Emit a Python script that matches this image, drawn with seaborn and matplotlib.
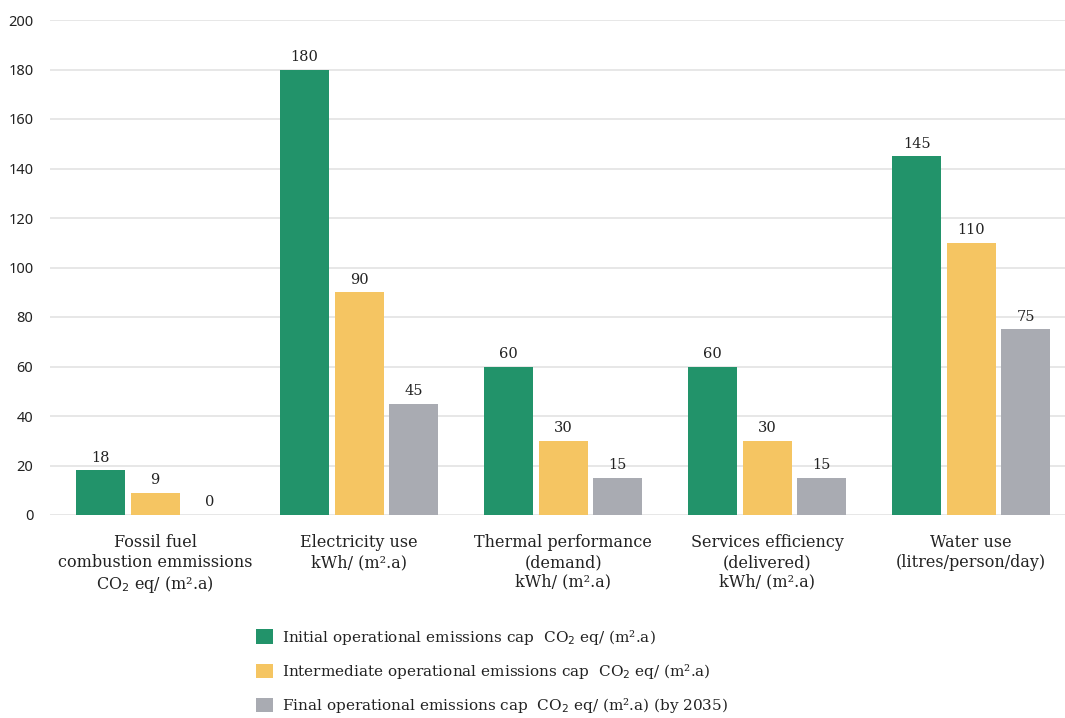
import pandas as pd
import matplotlib
matplotlib.use("Agg")
import matplotlib.pyplot as plt
import seaborn as sns

# Data
categories = [
    "Fossil fuel\ncombustion emmissions\nCO$_2$ eq/ (m².a)",
    "Electricity use\nkWh/ (m².a)",
    "Thermal performance\n(demand)\nkWh/ (m².a)",
    "Services efficiency\n(delivered)\nkWh/ (m².a)",
    "Water use\n(litres/person/day)",
]
series_names = [
    "Initial operational emissions cap  CO$_2$ eq/ (m².a)",
    "Intermediate operational emissions cap  CO$_2$ eq/ (m².a)",
    "Final operational emissions cap  CO$_2$ eq/ (m².a) (by 2035)",
]
initial_vals = [18, 180, 60, 60, 145]
intermediate_vals = [9, 90, 30, 30, 110]
final_vals = [0, 45, 15, 15, 75]

colors = ["#22936a", "#f5c562", "#a9abb2"]

df = pd.DataFrame({
    "Category": categories * 3,
    "Series": [series_names[0]] * 5 + [series_names[1]] * 5 + [series_names[2]] * 5,
    "Value": initial_vals + intermediate_vals + final_vals,
})

sns.set_style("white")
plt.rcParams["font.family"] = ["DejaVu Serif"]

fig = plt.figure(figsize=(10.65, 7.18), dpi=100)
ax = fig.add_axes([50 / 1065, 203 / 718, 1015 / 1065, 495 / 718])

sns.barplot(data=df, x="Category", y="Value", hue="Series", palette=colors,
            saturation=1, width=0.8, gap=0.1, linewidth=0, ax=ax, legend=True)

for cont in ax.containers:
    ax.bar_label(cont, fmt="%g", padding=4, fontsize=10.5, color="#222222",
                 fontfamily="DejaVu Serif")

ax.set_ylim(0, 200)
ax.set_yticks(range(0, 201, 20))
ax.set_xlim(-0.515, 4.46)
ax.yaxis.grid(True, color="#e3e3e3", linewidth=1.2)
ax.set_axisbelow(True)
for s in ax.spines.values():
    s.set_visible(False)
ax.tick_params(axis="y", length=0, pad=12, labelsize=10.5, labelcolor="#222222")
ax.tick_params(axis="x", length=0, pad=14, labelsize=11.5, labelcolor="#222222")
for t in ax.get_yticklabels():
    t.set_fontfamily("Noto Sans")
ax.set_xlabel("")
ax.set_ylabel("")

handles, labels = ax.get_legend_handles_labels()
ax.get_legend().remove()
fig.legend(handles, labels, loc="upper left", bbox_to_anchor=(242 / 1065, 1 - 614 / 718),
           frameon=False, fontsize=11, handlelength=1.1, handleheight=1.1,
           labelspacing=1.0, handletextpad=0.6, labelcolor="#222222")

fig.savefig("out.png", dpi=100)
